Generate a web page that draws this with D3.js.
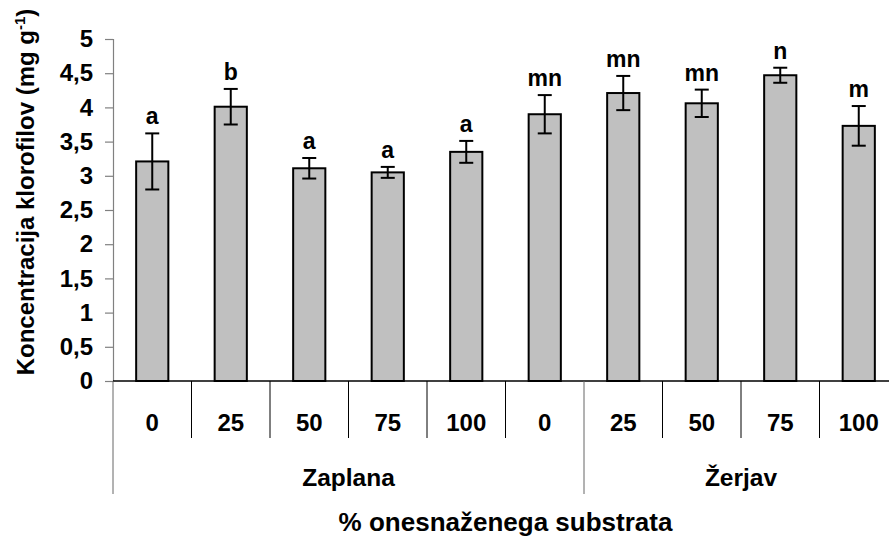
<!DOCTYPE html>
<html>
<head>
<meta charset="utf-8">
<script src="https://cdn.jsdelivr.net/npm/d3@7"></script>
<style>
  body { margin: 0; background: #fff; }
  svg text { font-family: "Liberation Sans", Arial, sans-serif; font-weight: bold; fill: #000; }
</style>
</head>
<body>
<svg id="chart" width="889" height="536"></svg>
<script>
// values
var categories = ["0", "25", "50", "75", "100", "0", "25", "50", "75", "100"];
var means      = [3.21, 4.01, 3.11, 3.05, 3.35, 3.90, 4.21, 4.06, 4.47, 3.73];
var errors     = [0.41, 0.26, 0.15, 0.08, 0.16, 0.28, 0.25, 0.20, 0.11, 0.29];
var letters    = ["a", "b", "a", "a", "a", "mn", "mn", "mn", "n", "m"];
var groups     = [{name: "Zaplana", from: 0, to: 6}, {name: "Žerjav", from: 6, to: 10}];
var yTicks     = [0, 0.5, 1, 1.5, 2, 2.5, 3, 3.5, 4, 4.5, 5];

var svg = d3.select("#chart");

var plotLeft = 113, plotRight = 898, plotTop = 39, plotBottom = 381;

var x = d3.scaleBand()
    .domain(d3.range(categories.length))
    .range([plotLeft, plotRight])
    .paddingInner(0.59)
    .paddingOuter(0.295);

var step = x.step();

var y = d3.scaleLinear().domain([0, 5]).range([plotBottom, plotTop]);

// y axis
var yAxis = svg.append("g")
    .attr("transform", "translate(" + plotLeft + ",0)")
    .call(d3.axisLeft(y).tickValues(yTicks).tickSize(8).tickPadding(12)
        .tickFormat(function(d) { return String(d).replace(".", ","); }));
yAxis.select(".domain").attr("stroke", "#808080").attr("stroke-width", 1.2);
yAxis.selectAll(".tick line").attr("stroke", "#808080").attr("stroke-width", 1.2);
yAxis.selectAll(".tick text")
    .attr("font-size", "24px")
    .attr("font-family", "Liberation Sans, Arial, sans-serif")
    .attr("font-weight", "bold")
    .attr("fill", "#000");

// bars
svg.append("g").selectAll("rect")
    .data(means)
    .enter().append("rect")
    .attr("x", function(d, i) { return x(i); })
    .attr("y", function(d) { return y(d); })
    .attr("width", x.bandwidth())
    .attr("height", function(d) { return y(0) - y(d); })
    .attr("fill", "#c0c0c0")
    .attr("stroke", "#000")
    .attr("stroke-width", 2);

// error bars
var err = svg.append("g").attr("stroke", "#000").attr("stroke-width", 2);
means.forEach(function(m, i) {
    var cx = x(i) + x.bandwidth() / 2;
    var lo = y(m - errors[i]), hi = y(m + errors[i]);
    err.append("line").attr("x1", cx).attr("x2", cx).attr("y1", lo).attr("y2", hi);
    err.append("line").attr("x1", cx - 7).attr("x2", cx + 7).attr("y1", lo).attr("y2", lo);
    err.append("line").attr("x1", cx - 7).attr("x2", cx + 7).attr("y1", hi).attr("y2", hi);
});

// significance letters
svg.append("g").selectAll("text")
    .data(letters)
    .enter().append("text")
    .attr("x", function(d, i) { return x(i) + x.bandwidth() / 2; })
    .attr("y", function(d, i) { return y(means[i] + errors[i]) - 9; })
    .attr("text-anchor", "middle")
    .attr("font-size", "23px")
    .text(function(d) { return d; });

// x axis line
svg.append("line")
    .attr("x1", plotLeft).attr("x2", plotRight)
    .attr("y1", plotBottom).attr("y2", plotBottom)
    .attr("stroke", "#000").attr("stroke-width", 1.5);

// category dividers
var bounds = d3.range(categories.length + 1);
svg.append("g").selectAll("line")
    .data(bounds)
    .enter().append("line")
    .attr("x1", function(d) { return plotLeft + d * step; })
    .attr("x2", function(d) { return plotLeft + d * step; })
    .attr("y1", plotBottom)
    .attr("y2", function(d) {
        var isGroup = groups.some(function(g) { return g.from === d || g.to === d; });
        return isGroup ? 494 : 438;
    })
    .attr("stroke", function(d) { return d === 0 || d === 6 ? "#666" : "#000"; })
    .attr("stroke-width", 1);

// category labels
svg.append("g").selectAll("text")
    .data(categories)
    .enter().append("text")
    .attr("x", function(d, i) { return x(i) + x.bandwidth() / 2; })
    .attr("y", 431)
    .attr("text-anchor", "middle")
    .attr("font-size", "24px")
    .text(function(d) { return d; });

// group labels
svg.append("g").selectAll("text")
    .data(groups)
    .enter().append("text")
    .attr("x", function(d) { return plotLeft + (d.from + d.to) / 2 * step; })
    .attr("y", 486)
    .attr("text-anchor", "middle")
    .attr("font-size", "24.5px")
    .text(function(d) { return d.name; });

// axis titles
svg.append("text")
    .attr("x", (plotLeft + plotRight) / 2)
    .attr("y", 531)
    .attr("text-anchor", "middle")
    .attr("font-size", "26px")
    .text("% onesnaženega substrata");

var yt = svg.append("text")
    .attr("transform", "translate(34,192) rotate(-90)")
    .attr("text-anchor", "middle")
    .attr("font-size", "24px");
yt.append("tspan").text("Koncentracija klorofilov (mg g");
yt.append("tspan").attr("dy", -9).attr("font-size", "15px").text("-1");
yt.append("tspan").attr("dy", 9).text(")");
</script>
</body>
</html>
